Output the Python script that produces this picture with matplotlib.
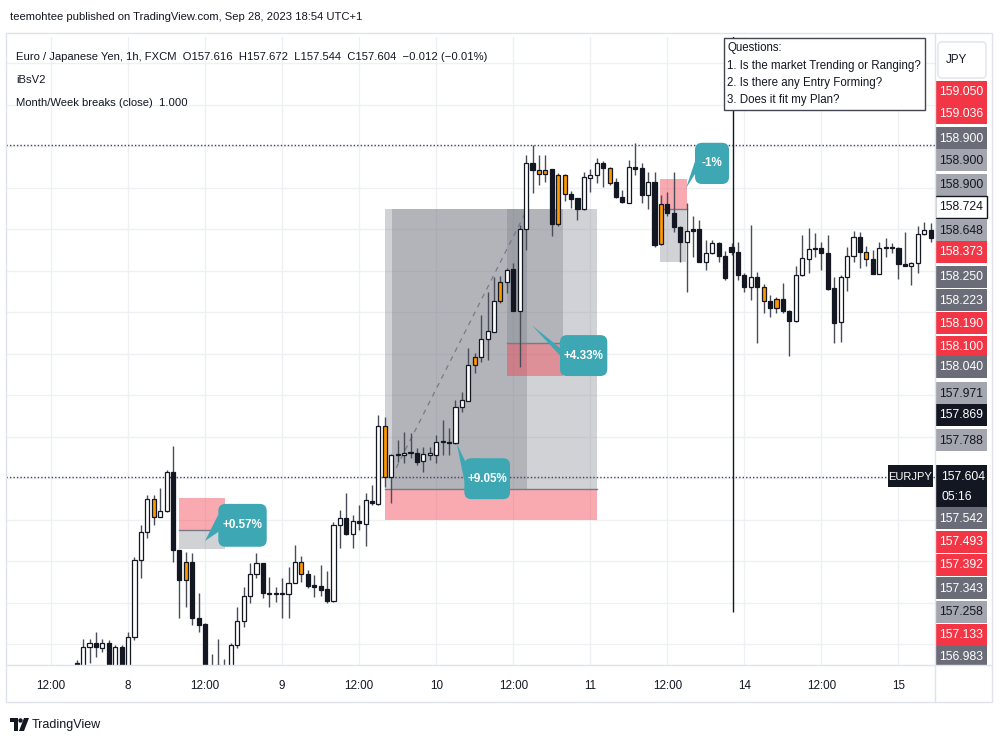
import matplotlib
matplotlib.use("Agg")
import matplotlib.pyplot as plt
from matplotlib import patches
import numpy as np

plt.rcParams['font.family'] = ['Liberation Sans', 'DejaVu Sans']

# EURJPY 1h candles, index 0 = 7th 12:00
idx = list(range(4, 138))
opens = [156.932, 156.900, 156.991, 157.004, 156.985, 157.004, 156.889, 156.990, 156.907, 157.027,
         157.304, 157.407, 157.525, 157.461, 157.481, 157.624, 157.340, 157.232, 157.298, 157.096,
         157.073, 156.900, 156.853, 156.856, 156.889, 156.997, 157.085, 157.175, 157.254, 157.292,
         157.185, 157.182, 157.181, 157.181, 157.222, 157.298, 157.254, 157.215, 157.210, 157.198,
         157.157, 157.431, 157.455, 157.398, 157.446, 157.434, 157.518, 157.507, 157.789, 157.603,
         157.685, 157.685, 157.691, 157.692, 157.663, 157.684, 157.684, 157.732, 157.732, 157.726,
         157.856, 157.880, 158.009, 158.037, 158.102, 158.129, 158.240, 158.310, 158.355, 158.205,
         158.499, 158.738, 158.714, 158.699, 158.716, 158.519, 158.696, 158.627, 158.611, 158.573,
         158.684, 158.696, 158.740, 158.720, 158.671, 158.617, 158.595, 158.726, 158.720, 158.623,
         158.671, 158.446, 158.591, 158.559, 158.509, 158.455, 158.499, 158.499, 158.382, 158.413,
         158.449, 158.403, 158.434, 158.418, 158.334, 158.292, 158.328, 158.292, 158.241, 158.214,
         158.247, 158.205, 158.169, 158.334, 158.392, 158.433, 158.433, 158.413, 158.286, 158.165,
         158.328, 158.403, 158.473, 158.418, 158.392, 158.338, 158.432, 158.434, 158.433, 158.374,
         158.367, 158.379, 158.482, 158.497]
highs = [156.943, 157.018, 157.019, 157.045, 157.019, 157.015, 156.997, 156.997, 157.045, 157.316,
         157.431, 157.539, 157.539, 157.564, 157.630, 157.716, 157.342, 157.334, 157.330, 157.185,
         157.075, 156.965, 157.019, 156.946, 157.004, 157.136, 157.208, 157.294, 157.331, 157.293,
         157.244, 157.208, 157.239, 157.280, 157.358, 157.319, 157.268, 157.250, 157.286, 157.265,
         157.442, 157.485, 157.547, 157.467, 157.503, 157.545, 157.575, 157.828, 157.822, 157.686,
         157.738, 157.768, 157.762, 157.708, 157.714, 157.714, 157.756, 157.810, 157.780, 157.882,
         157.912, 158.069, 158.051, 158.190, 158.274, 158.328, 158.331, 158.358, 158.379, 158.515,
         158.768, 158.804, 158.768, 158.768, 158.718, 158.702, 158.698, 158.639, 158.613, 158.707,
         158.716, 158.756, 158.747, 158.723, 158.686, 158.641, 158.750, 158.810, 158.738, 158.707,
         158.707, 158.623, 158.635, 158.707, 158.511, 158.595, 158.547, 158.533, 158.461, 158.461,
         158.455, 158.422, 158.449, 158.455, 158.340, 158.515, 158.346, 158.302, 158.262, 158.256,
         158.306, 158.207, 158.367, 158.479, 158.503, 158.485, 158.455, 158.479, 158.328, 158.334,
         158.436, 158.494, 158.491, 158.439, 158.425, 158.455, 158.467, 158.449, 158.436, 158.491,
         158.382, 158.511, 158.527, 158.521]
lows = [156.834, 156.871, 156.932, 156.955, 156.972, 156.871, 156.871, 156.878, 156.889, 157.015,
        157.239, 157.384, 157.431, 157.460, 157.478, 157.298, 157.095, 157.136, 157.069, 157.045,
        156.798, 156.805, 156.798, 156.834, 156.853, 156.986, 157.063, 157.148, 157.238, 157.166,
        157.136, 157.154, 157.094, 157.094, 157.221, 157.226, 157.202, 157.172, 157.174, 157.148,
        157.152, 157.346, 157.396, 157.346, 157.413, 157.355, 157.503, 157.503, 157.569, 157.509,
        157.659, 157.654, 157.672, 157.648, 157.623, 157.666, 157.654, 157.684, 157.684, 157.723,
        157.840, 157.879, 157.979, 158.021, 158.027, 158.128, 158.232, 158.268, 158.204, 158.003,
        158.425, 158.629, 158.659, 158.671, 158.475, 158.511, 158.603, 158.575, 158.533, 158.569,
        158.635, 158.666, 158.653, 158.659, 158.613, 158.594, 158.594, 158.696, 158.593, 158.572,
        158.436, 158.443, 158.547, 158.491, 158.382, 158.274, 158.400, 158.381, 158.352, 158.410,
        158.382, 158.316, 158.406, 158.316, 158.274, 158.244, 158.090, 158.198, 158.183, 158.196,
        158.196, 158.041, 158.165, 158.331, 158.340, 158.400, 158.352, 158.280, 158.090, 158.093,
        158.277, 158.382, 158.358, 158.367, 158.336, 158.336, 158.398, 158.415, 158.319, 158.365,
        158.298, 158.342, 158.479, 158.455]
closes = [156.871, 156.991, 157.003, 156.990, 157.003, 156.889, 156.990, 156.900, 157.027, 157.304,
          157.407, 157.525, 157.461, 157.481, 157.624, 157.340, 157.232, 157.298, 157.094, 157.069,
          156.834, 156.834, 156.925, 156.914, 156.997, 157.085, 157.175, 157.254, 157.292, 157.184,
          157.181, 157.185, 157.183, 157.222, 157.298, 157.254, 157.210, 157.208, 157.196, 157.157,
          157.431, 157.455, 157.398, 157.446, 157.439, 157.521, 157.511, 157.789, 157.603, 157.684,
          157.687, 157.691, 157.693, 157.659, 157.687, 157.690, 157.732, 157.733, 157.726, 157.858,
          157.882, 158.009, 158.039, 158.102, 158.132, 158.240, 158.310, 158.352, 158.205, 158.499,
          158.738, 158.714, 158.699, 158.714, 158.519, 158.696, 158.627, 158.609, 158.573, 158.687,
          158.696, 158.740, 158.720, 158.666, 158.615, 158.599, 158.723, 158.716, 158.623, 158.671,
          158.443, 158.591, 158.559, 158.507, 158.455, 158.493, 158.494, 158.382, 158.413, 158.449,
          158.403, 158.322, 158.418, 158.334, 158.292, 158.328, 158.290, 158.241, 158.214, 158.247,
          158.205, 158.169, 158.334, 158.395, 158.427, 158.427, 158.413, 158.282, 158.162, 158.328,
          158.403, 158.473, 158.418, 158.392, 158.338, 158.433, 158.434, 158.432, 158.374, 158.367,
          158.379, 158.482, 158.497, 158.467]
inside_bars = [16, 21, 39, 52, 66, 70, 76, 77, 79, 80, 87, 95, 111, 113, 127]

tick_pos = [0, 12, 24, 36, 48, 60, 72, 84, 96, 108, 120, 132]
tick_labels = ['12:00', '8', '12:00', '9', '12:00', '10', '12:00', '11', '12:00', '14', '12:00', '15']

last_price = 157.604
week_level = 158.804
marker_bar = 106.23

# drawings: (x0, x1, price_low, price_high)
grey_zones = [(19.98, 27.10, 157.344, 157.413), (52.02, 85.05, 157.560, 158.572),
              (53.07, 74.10, 157.560, 158.572), (70.98, 79.80, 158.087, 158.572),
              (94.86, 98.91, 158.380, 158.572)]
red_zones = [(19.98, 27.10, 157.413, 157.527), (52.02, 85.05, 157.449, 157.560),
             (70.98, 79.80, 157.970, 158.087), (94.86, 99.11, 158.572, 158.681)]
entry_lines = [(19.98, 27.10, 157.413), (52.02, 85.05, 157.560), (70.98, 79.80, 158.087),
               (94.86, 99.11, 158.572)]
# callouts: x0, x1, y0, y1, tip x, tip y, text, tail base points (box fractions)
callouts = [(26.06, 33.60, 157.352, 157.507, 23.99, 157.373, '+0.57%', (0, 0.75), (0.12, 0.05)),
            (64.38, 71.50, 157.524, 157.672, 63.19, 157.726, '+9.05%', (0, 0.45), (0.3, 1.0)),
            (79.28, 86.65, 157.969, 158.117, 74.88, 158.153, '+4.33%', (0, 0.5), (0.3, 1.0)),
            (100.31, 105.61, 158.663, 158.812, 98.91, 158.648, '-1%', (0, 0.55), (0.35, 0.0))]

axis_vals = ['159.050', '159.036', '158.900', '158.900', '158.900', '158.724', '158.648', '158.373',
             '158.250', '158.223', '158.190', '158.100', '158.040', '157.971', '157.869', '157.788',
             '157.542', '157.493', '157.392', '157.343', '157.258', '157.133', '156.983']
axis_kinds = ['r', 'r', 'd', 'l', 'l', 'w', 'l', 'r', 'd', 'd', 'r', 'r', 'd', 'l', 'k', 'l',
              'd', 'r', 'r', 'd', 'l', 'r', 'd']
axis_ys = [91.7, 113.3, 138.3, 160, 185, 206.7, 230, 251.7, 276.7, 300, 323.3, 346.7, 366.7,
           393.3, 415, 440, 518.3, 541.7, 565, 588.3, 611.7, 635, 656.7]

DARK = '#131722'
FS = 8.4
fig = plt.figure(figsize=(10, 7.5), dpi=100)
fig.patch.set_facecolor('white')

# main price pane
ax = fig.add_axes([6/1000, 1-665/750, 929/1000, 628/750])
for s in ax.spines.values():
    s.set_visible(False)
ax.set_yticks(np.arange(156.85, 159.3, 0.15))
ax.set_xticks(tick_pos)
ax.set_xticklabels(tick_labels)
ax.set_xlim(-7.01, 137.69)
ax.set_ylim(156.9247, 159.1943)
ax.tick_params(axis='both', length=0, labelleft=False, labelsize=FS, labelcolor=DARK, pad=11)
ax.grid(color='#eef0f4', lw=1, zorder=0)
ax.set_axisbelow(True)

for x0, x1, lo, hi in grey_zones:
    ax.add_patch(patches.Rectangle((x0, lo), x1-x0, hi-lo, facecolor='#787b86', alpha=0.34,
                                   edgecolor='none', zorder=1))
for x0, x1, lo, hi in red_zones:
    ax.add_patch(patches.Rectangle((x0, lo), x1-x0, hi-lo, facecolor='#f23645', alpha=0.42,
                                   edgecolor='none', zorder=1))
for x0, x1, y in entry_lines:
    ax.plot([x0, x1], [y, y], color='#787b86', lw=1, zorder=1.5)
ax.plot([53.07, 74.10], [157.605, 158.569], color='#787b86', lw=0.9, ls=(0, (4, 4)), zorder=1.5)

ax.axhline(week_level, color='#434651', lw=1, ls=(0, (1, 1.5)), zorder=2)
ax.axhline(last_price, color='#434651', lw=1, ls=(0, (1, 1.5)), zorder=2)
ax.vlines(marker_bar, 157.116, 159.3, color=DARK, lw=1, zorder=2)

# candles
x = np.array(idx)
o = np.array(opens)
h = np.array(highs)
l = np.array(lows)
c = np.array(closes)
face = ['#ff9800' if i in inside_bars else ('white' if cc >= oo else DARK)
        for i, oo, cc in zip(idx, o, c)]
ax.vlines(x, l, h, color='#4a4d57', lw=1, zorder=3)
ax.bar(x, np.maximum(np.abs(c-o), 0.004), bottom=np.minimum(o, c), width=0.64,
       color=face, edgecolor=DARK, linewidth=0.9, zorder=4)

# teal callouts
asp = 6.42/276.7
for x0, x1, y0, y1, tx, ty, txt, b1, b2 in callouts:
    w, hh = x1-x0, y1-y0
    tail = [(tx, ty), (x0+b1[0]*w, y0+b1[1]*hh), (x0+b2[0]*w, y0+b2[1]*hh), (x0+0.2*w, y0+0.5*hh)]
    ax.add_patch(patches.Polygon(tail, closed=True, facecolor='#3da7b4', edgecolor='none', zorder=5))
    ax.add_patch(patches.FancyBboxPatch((x0, y0), w, hh, boxstyle='round,pad=0,rounding_size=1.1',
                                        mutation_aspect=asp, facecolor='#3da7b4', edgecolor='none',
                                        zorder=5))
    ax.text((x0+x1)/2, (y0+y1)/2, txt, color='white', fontsize=FS, fontweight='bold',
            ha='center', va='center', zorder=6)

# price scale labels
ax2 = fig.add_axes([935/1000, 1-665/750, 55/1000, 628/750])
ax2.set_xlim(0, 55)
ax2.set_ylim(665, 37)
ax2.axis('off')
kind_colors = {'r': ('#f23645', 'white'), 'd': ('#6a6d78', 'white'), 'l': ('#a3a6af', DARK),
               'w': ('white', DARK), 'k': (DARK, 'white')}
for v, k, y in zip(axis_vals, axis_kinds, axis_ys):
    bg, fg = kind_colors[k]
    ax2.add_patch(patches.Rectangle((0, y-11), 52, 22, facecolor=bg,
                                    edgecolor=DARK if k == 'w' else 'none', lw=1))
    ax2.text(26, y+0.5, v, color=fg, fontsize=8.8, ha='center', va='center')
ax2.add_patch(patches.Rectangle((0, 465), 52, 42, facecolor=DARK, edgecolor='none'))
ax2.text(6, 476.7, f'{last_price:.3f}', color='white', fontsize=8.8, ha='left', va='center')
ax2.text(6, 496.7, '05:16', color='white', fontsize=8.8, ha='left', va='center')

# overlay in pixel coordinates
ov = fig.add_axes([0, 0, 1, 1])
ov.set_xlim(0, 1000)
ov.set_ylim(750, 0)
ov.axis('off')
ov.patch.set_alpha(0)
ov.add_patch(patches.Rectangle((6, 33), 986, 669, fill=False, edgecolor='#e0e3eb', lw=1))
ov.plot([6, 992], [665, 665], color='#e0e3eb', lw=1)
ov.plot([935, 935], [33, 702], color='#e0e3eb', lw=1)

HS = 8.1
ov.text(10, 17, 'teemohtee published on TradingView.com, Sep 28, 2023 18:54 UTC+1',
        fontsize=HS, color=DARK, va='center')
ov.text(16, 57, 'Euro / Japanese Yen, 1h, FXCM  O157.616  H157.672  L157.544  C157.604  '
        '\u22120.012 (\u22120.01%)', fontsize=HS, color=DARK, va='center')
ov.text(16, 80, 'iBsV2', fontsize=HS, color=DARK, va='center')
ov.text(16, 103, 'Month/Week breaks (close)  1.000', fontsize=HS, color=DARK, va='center')

ov.add_patch(patches.Rectangle((724, 38), 201, 72, facecolor='white', edgecolor='#434651', lw=1))
qlines = ['Questions:', '1. Is the market Trending or Ranging?', '2. Is there any Entry Forming?',
          '3. Does it fit my Plan?']
for k, q in enumerate(qlines):
    ov.text(727, 48 + k*17.5, q, fontsize=8.3, color=DARK, va='center')

ov.add_patch(patches.FancyBboxPatch((938, 42), 48, 36, boxstyle='round,pad=0,rounding_size=4',
                                    facecolor='white', edgecolor='#e0e3eb', lw=1))
ov.text(956, 60, 'JPY', fontsize=FS, color=DARK, ha='center', va='center')

ov.add_patch(patches.Rectangle((888, 465), 45, 22, facecolor=DARK, edgecolor='none'))
ov.text(910.5, 476.5, 'EURJPY', fontsize=8, color='white', ha='center', va='center')

# TradingView logo
ov.add_patch(patches.Polygon([(10, 718), (18, 718), (18, 731), (14, 731), (14, 722), (10, 722)],
                             closed=True, facecolor=DARK, edgecolor='none'))
ov.add_patch(patches.Circle((20.5, 720.5), 2.2, facecolor=DARK, edgecolor='none'))
ov.add_patch(patches.Polygon([(24, 718), (29, 718), (24, 731), (19, 731)], closed=True,
                             facecolor=DARK, edgecolor='none'))
ov.text(32, 725, 'TradingView', fontsize=9, color=DARK, va='center')

fig.savefig('out.png', dpi=100, facecolor='white')
